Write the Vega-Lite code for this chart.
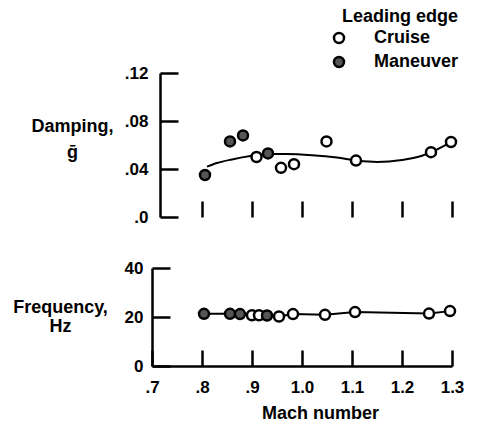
{
  "$schema": "https://vega.github.io/schema/vega-lite/v6.json",
  "padding": {"left": 12, "top": 8, "right": 5, "bottom": 5},
  "background": "white",
  "bounds": "flush",
  "spacing": 51,
  "config": {
    "view": {"stroke": null},
    "font": "Liberation Sans",
    "axis": {
      "grid": false,
      "labelFont": "Liberation Sans",
      "labelFontWeight": "bold",
      "labelFontSize": 17,
      "labelColor": "black",
      "labelFlush": false,
      "titleFont": "Liberation Sans",
      "titleFontWeight": "bold",
      "titleFontSize": 18,
      "titleColor": "black",
      "domainColor": "black",
      "domainWidth": 2.5,
      "tickColor": "black",
      "tickWidth": 2.5
    },
    "legend": {
      "titleFont": "Liberation Sans",
      "titleFontWeight": "bold",
      "titleFontSize": 18,
      "titleColor": "black",
      "labelFont": "Liberation Sans",
      "labelFontWeight": "bold",
      "labelFontSize": 18,
      "labelColor": "black",
      "symbolType": "circle",
      "symbolSize": 100,
      "symbolStrokeColor": "black",
      "symbolStrokeWidth": 2.5,
      "labelOffset": 26,
      "rowPadding": 4,
      "titlePadding": 3
    }
  },
  "datasets": {
    "damping": [
      {"mach": 0.806, "g": 0.035, "condition": "Maneuver"},
      {"mach": 0.856, "g": 0.063, "condition": "Maneuver"},
      {"mach": 0.882, "g": 0.068, "condition": "Maneuver"},
      {"mach": 0.909, "g": 0.050, "condition": "Cruise"},
      {"mach": 0.932, "g": 0.053, "condition": "Maneuver"},
      {"mach": 0.958, "g": 0.041, "condition": "Cruise"},
      {"mach": 0.984, "g": 0.044, "condition": "Cruise"},
      {"mach": 1.049, "g": 0.063, "condition": "Cruise"},
      {"mach": 1.108, "g": 0.047, "condition": "Cruise"},
      {"mach": 1.258, "g": 0.054, "condition": "Cruise"},
      {"mach": 1.298, "g": 0.0625, "condition": "Cruise"}
    ],
    "fit": [
      {"mach": 0.81, "g": 0.042},
      {"mach": 0.83, "g": 0.045},
      {"mach": 0.86, "g": 0.048},
      {"mach": 0.9, "g": 0.051},
      {"mach": 0.93, "g": 0.0525},
      {"mach": 0.97, "g": 0.0525},
      {"mach": 1.02, "g": 0.0515},
      {"mach": 1.07, "g": 0.0495},
      {"mach": 1.11, "g": 0.047},
      {"mach": 1.15, "g": 0.0458},
      {"mach": 1.2, "g": 0.0475},
      {"mach": 1.24, "g": 0.051},
      {"mach": 1.258, "g": 0.054},
      {"mach": 1.298, "g": 0.0625}
    ],
    "freq": [
      {"mach": 0.804, "hz": 21.3, "condition": "Maneuver"},
      {"mach": 0.856, "hz": 21.3, "condition": "Maneuver"},
      {"mach": 0.876, "hz": 21.2, "condition": "Maneuver"},
      {"mach": 0.9, "hz": 20.7, "condition": "Cruise"},
      {"mach": 0.914, "hz": 20.7, "condition": "Cruise"},
      {"mach": 0.93, "hz": 20.6, "condition": "Maneuver"},
      {"mach": 0.954, "hz": 20.2, "condition": "Cruise"},
      {"mach": 0.982, "hz": 21.2, "condition": "Cruise"},
      {"mach": 1.046, "hz": 20.9, "condition": "Cruise"},
      {"mach": 1.106, "hz": 22.0, "condition": "Cruise"},
      {"mach": 1.254, "hz": 21.4, "condition": "Cruise"},
      {"mach": 1.296, "hz": 22.4, "condition": "Cruise"}
    ]
  },
  "vconcat": [
    {
      "width": 300,
      "height": 144,
      "layer": [
        {
          "mark": {"type": "rule", "color": "black", "strokeWidth": 2.5},
          "encoding": {
            "x": {"datum": 0.716, "type": "quantitative", "scale": {"domain": [0.7, 1.3]},
              "axis": {"values": [0.8, 0.9, 1.0, 1.1, 1.2, 1.3], "labels": false, "domain": false, "title": null, "tickSize": -16}},
            "x2": {"datum": 1.3},
            "y": {"datum": 0, "type": "quantitative", "scale": {"domain": [0, 0.12]},
              "axis": {
                "values": [0, 0.04, 0.08, 0.12],
                "offset": -8,
                "tickSize": -18,
                "labelPadding": 30,
                "labelExpr": "datum.value == 0 ? '.0' : replace(format(datum.value, '.2f'), '0.', '.')",
                "title": ["Damping,", "ḡ"],
                "titleAngle": 0,
                "titleAlign": "center",
                "titleBaseline": "middle",
                "titleX": -88,
                "titleY": 53,
                "titleLineHeight": 26
              }}
          }
        },
        {
          "data": {"name": "fit"},
          "mark": {"type": "line", "interpolate": "monotone", "color": "black", "strokeWidth": 2},
          "encoding": {
            "x": {"field": "mach", "type": "quantitative"},
            "y": {"field": "g", "type": "quantitative"}
          }
        },
        {
          "data": {"name": "damping"},
          "mark": {"type": "point", "shape": "circle", "filled": true, "stroke": "black", "strokeWidth": 2.5, "size": 100, "opacity": 1},
          "encoding": {
            "x": {"field": "mach", "type": "quantitative"},
            "y": {"field": "g", "type": "quantitative"},
            "fill": {"field": "condition", "type": "nominal",
              "scale": {"domain": ["Cruise", "Maneuver"], "range": ["white", "#555555"]},
              "legend": {"orient": "none", "legendX": 178, "legendY": -65,
                "title": "Leading edge", "titleAnchor": "end"}}
          }
        }
      ]
    },
    {
      "width": 300,
      "height": 98,
      "layer": [
        {
          "data": {"name": "freq"},
          "mark": {"type": "line", "color": "black", "strokeWidth": 2},
          "encoding": {
            "x": {"field": "mach", "type": "quantitative", "scale": {"domain": [0.7, 1.3]},
              "axis": {
                "values": [0.7, 0.8, 0.9, 1.0, 1.1, 1.2, 1.3],
                "tickSize": -16,
                "labelPadding": 29,
                "labelExpr": "datum.value < 0.95 ? replace(format(datum.value, '.1f'), '0.', '.') : format(datum.value, '.1f')",
                "title": "Mach number",
                "titleX": 168,
                "titleY": 47,
                "titleBaseline": "middle"
              }},
            "y": {"field": "hz", "type": "quantitative", "scale": {"domain": [0, 40]},
              "axis": {
                "values": [0, 20, 40],
                "tickSize": -18,
                "labelPadding": 27,
                "title": ["Frequency,", "Hz"],
                "titleAngle": 0,
                "titleAlign": "center",
                "titleBaseline": "middle",
                "titleX": -92,
                "titleY": 39,
                "titleLineHeight": 19
              }}
          }
        },
        {
          "data": {"name": "freq"},
          "mark": {"type": "point", "shape": "circle", "filled": true, "stroke": "black", "strokeWidth": 2.5, "size": 100, "opacity": 1},
          "encoding": {
            "x": {"field": "mach", "type": "quantitative"},
            "y": {"field": "hz", "type": "quantitative"},
            "fill": {"field": "condition", "type": "nominal",
              "scale": {"domain": ["Cruise", "Maneuver"], "range": ["white", "#555555"]},
              "legend": null}
          }
        }
      ]
    }
  ]
}
